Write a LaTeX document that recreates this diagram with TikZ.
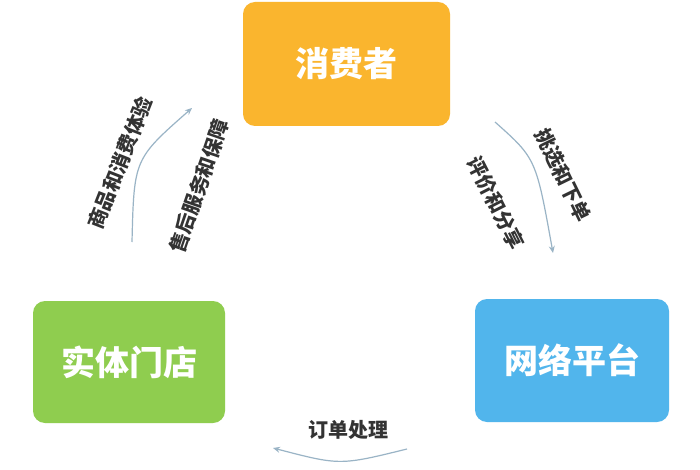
\documentclass[tikz,border=0pt]{standalone}
\usepackage{fontspec}
\newfontfamily\cjk{Noto Sans CJK SC}
\usetikzlibrary{arrows.meta}
\definecolor{cOrange}{HTML}{FAB52E}
\definecolor{cGreen}{HTML}{8FCD4F}
\definecolor{cBlue}{HTML}{51B5EC}
\definecolor{cArrow}{HTML}{9AB4C6}
\definecolor{cText}{HTML}{333333}
\tikzset{
  box/.style={rectangle, rounded corners=12pt, inner sep=0pt, text=white,
    font=\cjk\bfseries\fontsize{34}{40}\selectfont},
  lbl/.style={inner sep=0pt, text=cText, font=\cjk\bfseries\fontsize{20}{24}\selectfont},
  flow/.style={draw=cArrow, line width=1.2pt, -{Stealth[length=7pt,width=6pt]}}
}
\begin{document}
\begin{tikzpicture}[x=1pt,y=-1pt]
\useasboundingbox (0,0) rectangle (700,470);
\fill[white] (0,0) rectangle (700,470);
% boxes
\node[box, fill=cOrange, minimum width=207pt, minimum height=124pt] (cons) at (346.5,64) {消费者};
\node[box, fill=cGreen, minimum width=192pt, minimum height=122pt] (store) at (129,362) {实体门店};
\node[box, fill=cBlue, minimum width=194pt, minimum height=123pt] (net) at (572,360.5) {网络平台};
% arrow end points
\coordinate (la) at (132,242);
\coordinate (lb) at (192,108);
\coordinate (ra) at (495,122);
\coordinate (rb) at (553,253);
\coordinate (ba) at (407,449);
\coordinate (bb) at (273,448);
\draw[flow] (la) .. controls (134,159) .. (lb);
\draw[flow] (ra) .. controls (536,158.5) .. (rb);
\draw[flow] (ba) .. controls (340,465.5) .. (bb);
% labels
\node[lbl, rotate=68.5] (l1) at (120,163) {商品和消费体验};
\node[lbl, rotate=71] (l2) at (199,186) {售后服务和保障};
\node[lbl, rotate=-64] (l3) at (563,175) {挑选和下单};
\node[lbl, rotate=-63] (l4) at (496,203) {评价和分享};
\node[lbl] (l5) at (348,430) {订单处理};
\end{tikzpicture}
\end{document}
